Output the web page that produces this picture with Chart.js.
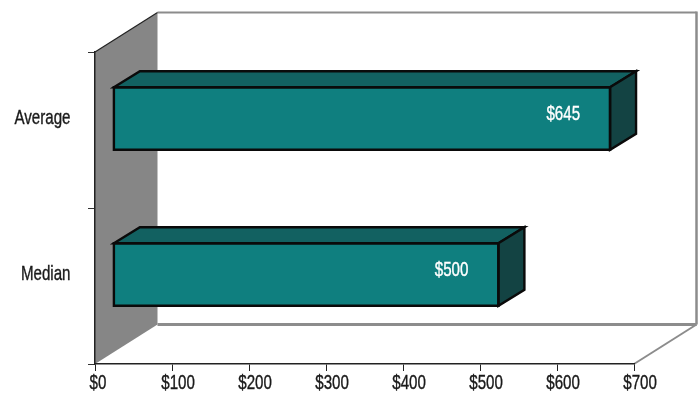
<!DOCTYPE html>
<html>
<head>
<meta charset="utf-8">
<style>
  html, body { margin: 0; padding: 0; background: #fff; }
</style>
<script src="https://cdn.jsdelivr.net/npm/chart.js@4"></script>
</head>
<body>
<canvas id="chart" width="700" height="393"></canvas>
<script>
const categories = ['Average', 'Median'];
const amounts = [645, 500];
const axisMax = 700;
const axisStep = 100;

// no condensed font installed, so labels are squeezed horizontally when drawn
const labelFont = '21px "Liberation Sans", sans-serif';
const squeeze = 0.72;

// fake 3D: how far the back wall and the bars are pushed "into" the page
const wallDepth = { x: 62.5, y: -39.5 };
const barOffset = { x: 18.4, y: -11.5 };
const barDepth = { x: 26, y: -16 };

function poly(ctx, pts, fill, stroke, width) {
    ctx.beginPath();
    pts.forEach((p, i) => i ? ctx.lineTo(p[0], p[1]) : ctx.moveTo(p[0], p[1]));
    ctx.closePath();
    if (fill) {
        ctx.fillStyle = fill;
        ctx.fill();
    }
    if (stroke) {
        ctx.strokeStyle = stroke;
        ctx.lineWidth = width;
        ctx.lineJoin = 'miter';
        ctx.stroke();
    }
}

function line(ctx, x1, y1, x2, y2, color, width) {
    ctx.beginPath();
    ctx.moveTo(x1, y1);
    ctx.lineTo(x2, y2);
    ctx.strokeStyle = color;
    ctx.lineWidth = width;
    ctx.stroke();
}

function narrowText(ctx, text, x, y, align, color) {
    ctx.save();
    ctx.translate(x, y);
    ctx.scale(squeeze, 1);
    ctx.font = labelFont;
    ctx.fillStyle = color;
    ctx.strokeStyle = color;
    ctx.lineWidth = 0.4;
    ctx.textAlign = align;
    ctx.textBaseline = 'middle';
    ctx.fillText(text, 0, 0);
    ctx.strokeText(text, 0, 0); // reference type is a bit heavier
    ctx.restore();
}

const box3d = {
    id: 'box3d',
    beforeDraw(chart) {
        const { ctx, chartArea: a } = chart;
        const dx = wallDepth.x, dy = wallDepth.y;
        ctx.save();
        // left wall
        poly(ctx, [[a.left, a.top], [a.left + dx, a.top + dy], [a.left + dx, a.bottom + dy], [a.left, a.bottom]], '#868686');
        // back wall outline and floor edge
        const grey = '#8c8c8c';
        line(ctx, a.left + dx, a.top + dy, a.right + dx, a.top + dy, grey, 2);
        line(ctx, a.right + dx, a.top + dy - 1, a.right + dx, a.bottom + dy, grey, 2.5);
        line(ctx, a.left + dx, a.bottom + dy, a.right + dx, a.bottom + dy, grey, 3);
        line(ctx, a.right, a.bottom, a.right + dx, a.bottom + dy, grey, 2);
        line(ctx, a.left, a.top, a.left + dx, a.top + dy, '#222', 1.2);
        ctx.restore();
    },
    beforeDatasetsDraw(chart) {
        chart.ctx.save();
        chart.ctx.translate(barOffset.x, barOffset.y);
    },
    afterDatasetsDraw(chart) {
        const { ctx } = chart;
        ctx.restore();
        ctx.save();
        const dx = barDepth.x, dy = barDepth.y;
        chart.getDatasetMeta(0).data.forEach((bar, i) => {
            const half = bar.height / 2;
            const left = bar.base + barOffset.x;
            const right = bar.x + barOffset.x;
            const top = bar.y + barOffset.y - half;
            const bottom = bar.y + barOffset.y + half;
            // top face, side face, then the outline of the front
            poly(ctx, [[left, top], [left + dx, top + dy], [right + dx, top + dy], [right, top]], '#126161', '#0a0a0a', 2.4);
            poly(ctx, [[right, top], [right + dx, top + dy], [right + dx, bottom + dy], [right, bottom]], '#134343', '#0a0a0a', 2.4);
            poly(ctx, [[left, top], [right, top], [right, bottom], [left, bottom]], null, '#0a0a0a', 2.4);
            // value label sits inside the front face
            narrowText(ctx, '$' + amounts[i], right - 30, bar.y + barOffset.y - 4, 'right', '#ffffff');
        });
        ctx.restore();
    },
    afterDraw(chart) {
        const { ctx, chartArea: a } = chart;
        const { x: xScale, y: yScale } = chart.scales;
        xScale.ticks.forEach((tick, i) => {
            const text = '$' + tick.value;
            ctx.save();
            ctx.font = labelFont;
            const w = ctx.measureText(text).width * squeeze;
            ctx.restore();
            narrowText(ctx, text, xScale.getPixelForTick(i) + w * 0.18, a.bottom + 19, 'center', '#1a1a1a');
        });
        yScale.ticks.forEach((tick, i) => {
            narrowText(ctx, categories[tick.value], 70.5, yScale.getPixelForValue(tick.value) + barOffset.y, 'right', '#1a1a1a');
        });
    }
};

new Chart(document.getElementById('chart'), {
    type: 'bar',
    data: {
        labels: categories,
        datasets: [{
            data: amounts,
            backgroundColor: '#0f7f7f',
            borderWidth: 0,
            barThickness: 62.5
        }]
    },
    options: {
        indexAxis: 'y',
        responsive: false,
        animation: false,
        layout: { padding: { top: 52, right: 66, left: 0, bottom: 0 } },
        plugins: {
            legend: { display: false },
            tooltip: { enabled: false }
        },
        scales: {
            x: {
                min: 0,
                max: axisMax,
                afterFit(scale) { scale.height = 29; },
                border: { color: '#222', width: 1.5 },
                grid: { drawOnChartArea: false, tickLength: 7, color: '#222', tickWidth: 1 },
                ticks: { display: false, stepSize: axisStep }
            },
            y: {
                afterFit(scale) { scale.width = 95; },
                border: { color: '#222', width: 1.5 },
                grid: { drawOnChartArea: false, tickLength: 7, color: '#333', tickWidth: 1 },
                ticks: { display: false }
            }
        }
    },
    plugins: [box3d]
});
</script>
</body>
</html>
